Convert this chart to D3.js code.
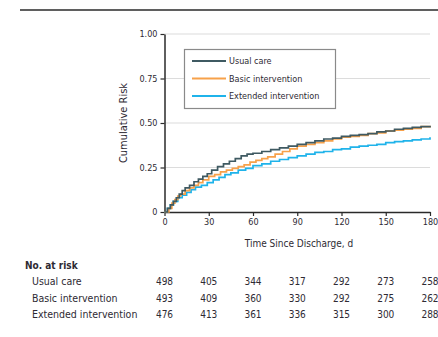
<!DOCTYPE html>
<html>
<head>
<meta charset="utf-8">
<script src="https://cdn.jsdelivr.net/npm/d3@7"></script>
<style>
  html, body { margin: 0; padding: 0; background: #fff; }
  text { font-family: "DejaVu Sans Condensed", "Liberation Sans Narrow", sans-serif; fill: #2e2a33; }
</style>
</head>
<body>
<script>
// Séries (courbes cumulatives en escalier)
const seriesNames = ["Usual care", "Basic intervention", "Extended intervention"];
const seriesColors = ["#3f5a62", "#f7a14a", "#1fb3ea"];

const usualDays = [0,2,4,6,8,10,12,14,17,20,23,26,29,32,36,40,44,48,52,56,60,66,72,78,84,90,96,102,108,114,120,126,132,138,144,150,156,162,168,174,180];
const usualRisk = [0,0.02,0.04,0.06,0.08,0.10,0.12,0.135,0.15,0.17,0.185,0.20,0.215,0.235,0.255,0.27,0.285,0.30,0.315,0.325,0.33,0.34,0.35,0.36,0.37,0.38,0.39,0.40,0.41,0.415,0.425,0.43,0.435,0.44,0.45,0.455,0.465,0.47,0.475,0.48,0.485];

const basicDays = [0,3,5,7,9,11,14,17,20,23,26,30,34,38,42,46,50,54,58,62,66,70,75,80,85,90,96,102,108,114,120,126,132,138,144,150,156,162,168,174,180];
const basicRisk = [0,0.02,0.05,0.07,0.09,0.10,0.12,0.135,0.15,0.165,0.18,0.20,0.21,0.225,0.235,0.245,0.255,0.265,0.28,0.29,0.30,0.31,0.325,0.34,0.355,0.37,0.38,0.39,0.40,0.41,0.42,0.425,0.43,0.44,0.445,0.455,0.46,0.465,0.47,0.48,0.485];

const extDays = [0,2,4,6,9,12,15,18,21,25,29,33,37,41,45,50,55,60,66,72,78,84,90,96,102,108,114,120,126,132,138,144,150,156,162,168,174,180];
const extRisk = [0,0.02,0.04,0.06,0.08,0.095,0.11,0.125,0.14,0.15,0.165,0.18,0.195,0.21,0.22,0.235,0.245,0.26,0.27,0.285,0.295,0.305,0.315,0.325,0.335,0.34,0.35,0.355,0.365,0.37,0.375,0.38,0.39,0.395,0.40,0.405,0.41,0.42];

// Ticks
const xTicks = [0, 30, 60, 90, 120, 150, 180];
const yTicks = [0, 0.25, 0.5, 0.75, 1.0];

// Nombre à risque
const atRiskUsual = [498, 405, 344, 317, 292, 273, 258];
const atRiskBasic = [493, 409, 360, 330, 292, 275, 262];
const atRiskExt = [476, 413, 361, 336, 315, 300, 288];

const width = 438, height = 337;
const svg = d3.select("body").append("svg")
    .attr("width", width)
    .attr("height", height);

// Trait du haut (figure coupée)
svg.append("line")
    .attr("x1", 20).attr("x2", width)
    .attr("y1", 10).attr("y2", 10)
    .attr("stroke", "#2a2a2a").attr("stroke-width", 1.6);

const x = d3.scaleLinear().domain([0, 180]).range([164.5, 430]);
const y = d3.scaleLinear().domain([0, 1]).range([212, 34]);

// Grille
svg.append("g")
    .selectAll("line")
    .data(yTicks.filter(d => d > 0))
    .enter().append("line")
    .attr("x1", x(0)).attr("x2", x(180))
    .attr("y1", d => y(d)).attr("y2", d => y(d))
    .attr("stroke", "#dcdcdc").attr("stroke-width", 1.2);

// Axe Y
const yAxis = svg.append("g")
    .attr("transform", `translate(${x(0)},0)`)
    .call(d3.axisLeft(y).tickValues(yTicks).tickSize(4).tickSizeOuter(0).tickPadding(3)
        .tickFormat(d => d === 0 ? "0" : d3.format(".2f")(d)));
yAxis.select(".domain").attr("stroke", "#2a2a2a").attr("stroke-width", 1.5);
yAxis.selectAll(".tick line").attr("stroke", "#2a2a2a").attr("stroke-width", 1.2);
yAxis.selectAll("text").attr("font-size", 9).style("font-family", null).attr("fill", "#2e2a33");

// Axe X
const xAxis = svg.append("g")
    .attr("transform", `translate(0,${y(0)})`)
    .call(d3.axisBottom(x).tickValues(xTicks).tickSize(4).tickSizeOuter(0).tickPadding(3));
xAxis.select(".domain").attr("stroke", "#2a2a2a").attr("stroke-width", 1.5);
xAxis.selectAll(".tick line").attr("stroke", "#2a2a2a").attr("stroke-width", 1.2);
xAxis.selectAll("text").attr("font-size", 9).style("font-family", null).attr("fill", "#2e2a33");

// Titres des axes
svg.append("text")
    .attr("x", 299).attr("y", 247)
    .attr("text-anchor", "middle")
    .attr("font-size", 10)
    .text("Time Since Discharge, d");

svg.append("text")
    .attr("transform", `translate(127,${y(0.5)}) rotate(-90)`)
    .attr("text-anchor", "middle")
    .attr("font-size", 11)
    .text("Cumulative Risk");

// Courbes
const line = d3.line()
    .x(d => x(d[0]))
    .y(d => y(d[1]))
    .curve(d3.curveStepAfter);

const curves = [
    d3.zip(usualDays, usualRisk),
    d3.zip(basicDays, basicRisk),
    d3.zip(extDays, extRisk)
];

// bleu d'abord, puis orange, puis foncé au-dessus
[2, 1, 0].forEach(i => {
    svg.append("path")
        .datum(curves[i])
        .attr("fill", "none")
        .attr("stroke", seriesColors[i])
        .attr("stroke-width", 1.7)
        .attr("d", line);
});

// Légende
const legend = svg.append("g");
legend.append("rect")
    .attr("x", 184.5).attr("y", 49.5)
    .attr("width", 151).attr("height", 59)
    .attr("fill", "#fff")
    .attr("stroke", "#8a8a8a").attr("stroke-width", 1.2);

seriesNames.forEach((name, i) => {
    const ly = 61 + i * 17.5;
    legend.append("line")
        .attr("x1", 192).attr("x2", 226)
        .attr("y1", ly).attr("y2", ly)
        .attr("stroke", seriesColors[i]).attr("stroke-width", 1.8);
    legend.append("text")
        .attr("x", 229).attr("y", ly + 3.2)
        .attr("font-size", 9)
        .text(name);
});

// Tableau des nombres à risque
svg.append("text")
    .attr("x", 25).attr("y", 269)
    .attr("font-size", 10)
    .attr("font-weight", "bold")
    .text("No. at risk");

const rows = [atRiskUsual, atRiskBasic, atRiskExt];
rows.forEach((row, i) => {
    const ry = 285 + i * 16.5;
    svg.append("text")
        .attr("x", 32).attr("y", ry)
        .attr("font-size", 10.5)
        .text(seriesNames[i]);
    svg.append("g")
        .selectAll("text")
        .data(row)
        .enter().append("text")
        .attr("x", (d, j) => x(xTicks[j]))
        .attr("y", ry)
        .attr("text-anchor", "middle")
        .attr("font-size", 10)
        .text(d => d);
});
</script>
</body>
</html>
